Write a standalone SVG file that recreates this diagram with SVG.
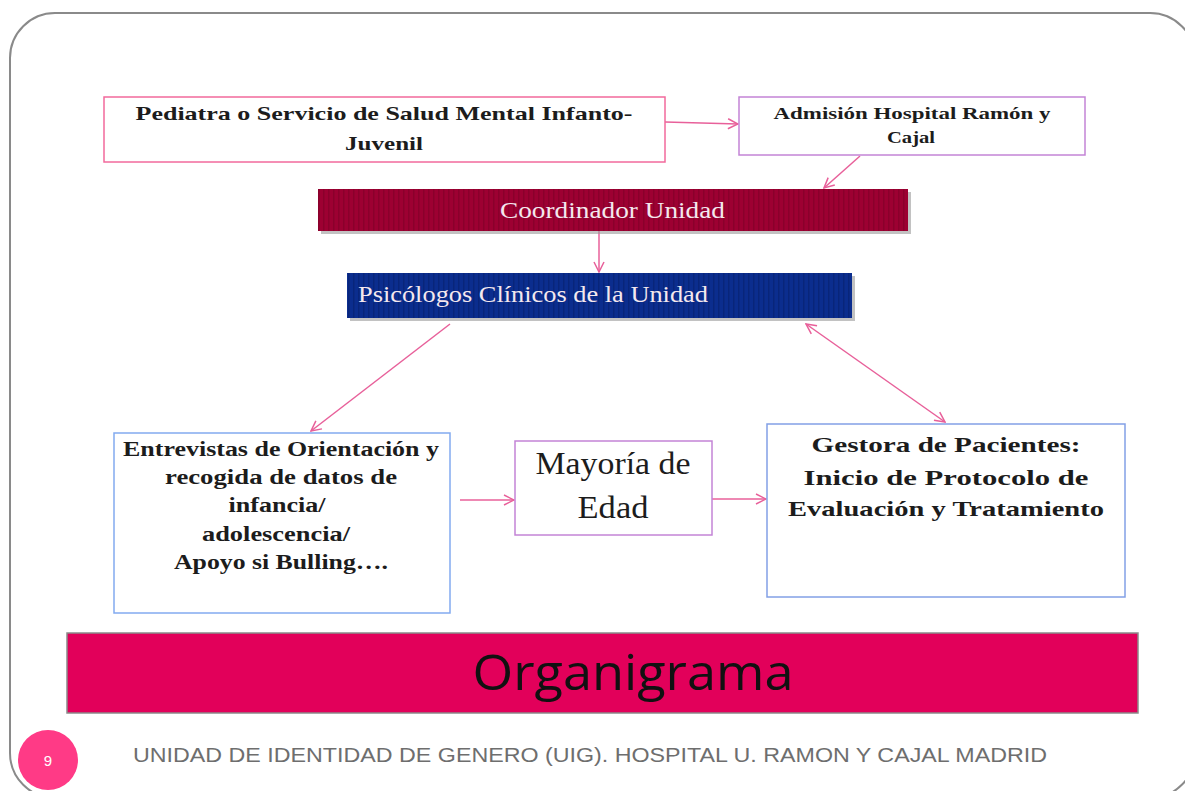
<svg xmlns="http://www.w3.org/2000/svg" width="1185" height="791" viewBox="0 0 1185 791">
<defs>
<style>
.bt{font-family:"Liberation Serif","Times New Roman",serif;font-weight:bold;fill:#1c1c1c;text-anchor:middle}
.wt{font-family:"Liberation Serif","Times New Roman",serif;fill:#f4e8ee}
.con{stroke:#e8609a;stroke-width:1.5;fill:none}
</style>
<marker id="ah" viewBox="0 0 12 12" refX="11" refY="6" markerWidth="12" markerHeight="12" markerUnits="userSpaceOnUse" orient="auto-start-reverse">
<path d="M1,1 L11,6 L1,11" fill="none" stroke="#e8609a" stroke-width="1.5"/>
</marker>
<pattern id="sr" width="5" height="10" patternUnits="userSpaceOnUse">
<rect width="5" height="10" fill="#9d0032"/>
<rect x="3" width="1.5" height="10" fill="#8a002b"/>
</pattern>
<pattern id="sb" width="5" height="10" patternUnits="userSpaceOnUse">
<rect width="5" height="10" fill="#0b2d8e"/>
<rect x="3" width="1.5" height="10" fill="#08257a"/>
</pattern>
</defs>
<rect width="1185" height="791" fill="#ffffff"/>
<rect x="10" y="13" width="1185" height="785" rx="45" ry="45" fill="none" stroke="#8a8a8a" stroke-width="2"/>

<g id="connectors">
<line class="con" x1="665" y1="122" x2="738" y2="124" marker-end="url(#ah)"/>
<line class="con" x1="860" y1="156" x2="824" y2="188" marker-end="url(#ah)"/>
<line class="con" x1="599" y1="231" x2="599" y2="272" marker-end="url(#ah)"/>
<line class="con" x1="450" y1="324" x2="311" y2="431" marker-end="url(#ah)"/>
<line class="con" x1="806" y1="324" x2="945" y2="422" marker-start="url(#ah)" marker-end="url(#ah)"/>
<line class="con" x1="460" y1="500" x2="514" y2="500" marker-end="url(#ah)"/>
<line class="con" x1="712" y1="499" x2="766" y2="499" marker-end="url(#ah)"/>
</g>

<g id="pediatra">
<rect x="104" y="97" width="561" height="65" fill="#fff" stroke="#f26a9c" stroke-width="1.5"/>
<text class="bt" x="384" y="120" font-size="19" textLength="497" lengthAdjust="spacingAndGlyphs">Pediatra o Servicio de Salud Mental Infanto-</text>
<text class="bt" x="384" y="150" font-size="19" textLength="78" lengthAdjust="spacingAndGlyphs">Juvenil</text>
</g>

<g id="admision">
<rect x="739" y="97" width="346" height="58" fill="#fff" stroke="#c384d6" stroke-width="1.5"/>
<text class="bt" x="912" y="119" font-size="17" textLength="277" lengthAdjust="spacingAndGlyphs">Admisión Hospital Ramón y</text>
<text class="bt" x="911" y="143" font-size="17" textLength="48" lengthAdjust="spacingAndGlyphs">Cajal</text>
</g>

<g id="coordinador">
<rect x="321" y="192" width="590" height="42" fill="#9a9a9a" opacity="0.6"/>
<rect x="318" y="189" width="590" height="42" fill="url(#sr)"/>
<text class="wt" x="500" y="218" font-size="23" textLength="225" lengthAdjust="spacingAndGlyphs">Coordinador Unidad</text>
</g>

<g id="psicologos">
<rect x="350" y="276" width="505" height="45" fill="#9a9a9a" opacity="0.6"/>
<rect x="347" y="273" width="505" height="45" fill="url(#sb)"/>
<text class="wt" x="358" y="302" font-size="23" textLength="350" lengthAdjust="spacingAndGlyphs">Psicólogos Clínicos de la Unidad</text>
</g>

<g id="entrevistas">
<rect x="114" y="433" width="336" height="180" fill="#fff" stroke="#82aaf0" stroke-width="1.5"/>
<text class="bt" x="281" y="456" font-size="20" textLength="316" lengthAdjust="spacingAndGlyphs">Entrevistas de Orientación y</text>
<text class="bt" x="281" y="484" font-size="20" textLength="232" lengthAdjust="spacingAndGlyphs">recogida de datos de</text>
<text class="bt" x="277" y="512" font-size="20" textLength="97" lengthAdjust="spacingAndGlyphs">infancia/</text>
<text class="bt" x="276" y="541" font-size="20" textLength="148" lengthAdjust="spacingAndGlyphs">adolescencia/</text>
<text class="bt" x="281" y="569" font-size="20" textLength="214" lengthAdjust="spacingAndGlyphs">Apoyo si Bulling….</text>
</g>

<g id="mayoria">
<rect x="515" y="441" width="197" height="94" fill="#fff" stroke="#c384d6" stroke-width="1.5"/>
<text x="613" y="474" font-family="Liberation Serif, serif" font-size="31" fill="#1c1c1c" text-anchor="middle" textLength="155" lengthAdjust="spacingAndGlyphs">Mayoría de</text>
<text x="613" y="518" font-family="Liberation Serif, serif" font-size="31" fill="#1c1c1c" text-anchor="middle" textLength="71" lengthAdjust="spacingAndGlyphs">Edad</text>
</g>

<g id="gestora">
<rect x="767" y="424" width="358" height="173" fill="#fff" stroke="#82a0e6" stroke-width="1.5"/>
<text class="bt" x="946" y="452" font-size="21" textLength="269" lengthAdjust="spacingAndGlyphs">Gestora de Pacientes:</text>
<text class="bt" x="946" y="485" font-size="21" textLength="285" lengthAdjust="spacingAndGlyphs">Inicio de Protocolo de</text>
<text class="bt" x="946" y="516" font-size="21" textLength="316" lengthAdjust="spacingAndGlyphs">Evaluación y Tratamiento</text>
</g>

<g id="organigrama">
<rect x="67" y="633" width="1071" height="80" fill="#e2005a" stroke="#8a8a8a" stroke-width="1.5"/>
<text x="633" y="690" font-family="Open Sans, Liberation Sans, sans-serif" font-size="50" fill="#111" text-anchor="middle" textLength="321" lengthAdjust="spacingAndGlyphs">Organigrama</text>
</g>

<g id="footer">
<circle cx="48" cy="760" r="30" fill="#ff3a86"/>
<text x="48" y="766" font-family="Liberation Sans, sans-serif" font-size="15" fill="#fff" text-anchor="middle">9</text>
<text x="133" y="762" font-family="Liberation Sans, Arial, sans-serif" font-size="20" fill="#6e6e6e" textLength="914" lengthAdjust="spacingAndGlyphs">UNIDAD DE IDENTIDAD DE GENERO (UIG). HOSPITAL U. RAMON Y CAJAL MADRID</text>
</g>
</svg>
